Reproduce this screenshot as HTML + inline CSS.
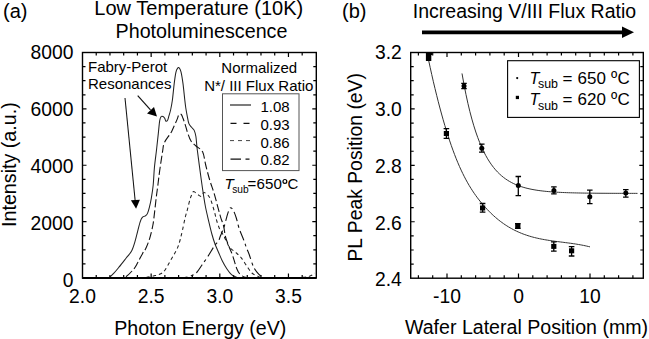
<!DOCTYPE html>
<html><head><meta charset="utf-8"><style>
html,body{margin:0;padding:0;background:#fff;width:649px;height:339px;overflow:hidden}
svg{display:block}
text{font-family:"Liberation Sans", sans-serif;fill:#000}
</style></head><body>
<svg width="649" height="339" viewBox="0 0 649 339">
<rect x="82.5" y="52.5" width="233.80" height="225.50" fill="none" stroke="#000" stroke-width="1.4"/>
<path d="M96.23,278.0v-3.0 M96.23,52.5v3.0 M109.96,278.0v-3.0 M109.96,52.5v3.0 M123.69,278.0v-3.0 M123.69,52.5v3.0 M137.42,278.0v-3.0 M137.42,52.5v3.0 M151.15,278.0v-4.6 M151.15,52.5v4.6 M164.88,278.0v-3.0 M164.88,52.5v3.0 M178.61,278.0v-3.0 M178.61,52.5v3.0 M192.34,278.0v-3.0 M192.34,52.5v3.0 M206.07,278.0v-3.0 M206.07,52.5v3.0 M219.80,278.0v-4.6 M219.80,52.5v4.6 M233.53,278.0v-3.0 M233.53,52.5v3.0 M247.26,278.0v-3.0 M247.26,52.5v3.0 M260.99,278.0v-3.0 M260.99,52.5v3.0 M274.72,278.0v-3.0 M274.72,52.5v3.0 M288.45,278.0v-4.6 M288.45,52.5v4.6 M302.18,278.0v-3.0 M302.18,52.5v3.0 M82.5,263.91h3 M316.3,263.91h-3 M82.5,249.81h3 M316.3,249.81h-3 M82.5,235.72h3 M316.3,235.72h-3 M82.5,221.62h4 M316.3,221.62h-4 M82.5,207.53h3 M316.3,207.53h-3 M82.5,193.44h3 M316.3,193.44h-3 M82.5,179.34h3 M316.3,179.34h-3 M82.5,165.25h4 M316.3,165.25h-4 M82.5,151.16h3 M316.3,151.16h-3 M82.5,137.06h3 M316.3,137.06h-3 M82.5,122.97h3 M316.3,122.97h-3 M82.5,108.88h4 M316.3,108.88h-4 M82.5,94.78h3 M316.3,94.78h-3 M82.5,80.69h3 M316.3,80.69h-3 M82.5,66.59h3 M316.3,66.59h-3" stroke="#000" stroke-width="1.2" fill="none"/>
<path d="M82.40,278.00 C85.33,278.00 95.65,278.03 100.00,278.00 C104.35,277.97 106.18,278.62 108.50,277.80 C110.82,276.98 112.12,274.92 113.90,273.10 C115.68,271.28 117.15,269.42 119.20,266.90 C121.25,264.38 124.13,260.65 126.20,258.00 C128.27,255.35 130.12,253.80 131.60,251.00 C133.08,248.20 133.70,245.97 135.10,241.20 C136.50,236.43 138.75,226.42 140.00,222.40 C141.25,218.38 141.68,218.20 142.60,217.10 C143.52,216.00 144.68,216.42 145.50,215.80 C146.32,215.18 146.87,214.77 147.50,213.40 C148.13,212.03 148.67,210.12 149.30,207.60 C149.93,205.08 150.65,202.07 151.30,198.30 C151.95,194.53 152.68,190.10 153.20,185.00 C153.72,179.90 153.85,173.53 154.40,167.70 C154.95,161.87 155.85,155.68 156.50,150.00 C157.15,144.32 157.77,138.50 158.30,133.60 C158.83,128.70 159.22,123.45 159.70,120.60 C160.18,117.75 160.65,117.18 161.20,116.50 C161.75,115.82 162.42,116.20 163.00,116.50 C163.58,116.80 164.22,117.52 164.70,118.30 C165.18,119.08 165.40,120.92 165.90,121.20 C166.40,121.48 167.20,120.88 167.70,120.00 C168.20,119.12 168.42,117.57 168.90,115.90 C169.38,114.23 170.02,112.65 170.60,110.00 C171.18,107.35 171.80,104.40 172.40,100.00 C173.00,95.60 173.62,88.22 174.20,83.60 C174.78,78.98 175.33,74.85 175.90,72.30 C176.47,69.75 177.05,69.05 177.60,68.30 C178.15,67.55 178.63,67.22 179.20,67.80 C179.77,68.38 180.37,69.17 181.00,71.80 C181.63,74.43 182.37,78.90 183.00,83.60 C183.63,88.30 184.33,95.93 184.80,100.00 C185.27,104.07 185.42,105.45 185.80,108.00 C186.18,110.55 186.58,112.70 187.10,115.30 C187.62,117.90 188.12,121.57 188.90,123.60 C189.68,125.63 190.92,126.37 191.80,127.50 C192.68,128.63 193.52,128.90 194.20,130.40 C194.88,131.90 195.38,133.23 195.90,136.50 C196.42,139.77 196.40,142.75 197.30,150.00 C198.20,157.25 200.27,172.50 201.30,180.00 C202.33,187.50 202.80,190.50 203.50,195.00 C204.20,199.50 204.67,202.78 205.50,207.00 C206.33,211.22 207.42,215.72 208.50,220.30 C209.58,224.88 210.92,230.55 212.00,234.50 C213.08,238.45 213.92,241.05 215.00,244.00 C216.08,246.95 217.32,249.47 218.50,252.20 C219.68,254.93 220.72,257.65 222.10,260.40 C223.48,263.15 225.23,266.33 226.80,268.70 C228.37,271.07 229.93,273.22 231.50,274.60 C233.07,275.98 234.78,276.43 236.20,277.00 C237.62,277.57 226.70,277.83 240.00,278.00 C253.30,278.17 303.33,278.00 316.00,278.00" stroke="#222" stroke-width="1.05" fill="none"/>
<path d="M82.40,278.00 C87.83,278.00 107.98,278.08 115.00,278.00 C122.02,277.92 121.45,278.90 124.50,277.50 C127.55,276.10 131.08,272.10 133.30,269.60 C135.52,267.10 136.25,265.20 137.80,262.50 C139.35,259.80 141.25,255.77 142.60,253.40 C143.95,251.03 144.72,250.82 145.90,248.30 C147.08,245.78 148.53,242.18 149.70,238.30 C150.87,234.42 152.08,229.38 152.90,225.00 C153.72,220.62 154.03,216.67 154.60,212.00 C155.17,207.33 155.75,201.50 156.30,197.00 C156.85,192.50 157.35,189.30 157.90,185.00 C158.45,180.70 158.83,176.70 159.60,171.20 C160.37,165.70 161.73,156.70 162.50,152.00 C163.27,147.30 163.03,145.87 164.20,143.00 C165.37,140.13 168.23,136.77 169.50,134.80 C170.77,132.83 170.93,132.87 171.80,131.20 C172.67,129.53 173.82,126.77 174.70,124.80 C175.58,122.83 176.40,121.08 177.10,119.40 C177.80,117.72 178.20,115.52 178.90,114.70 C179.60,113.88 180.62,113.90 181.30,114.50 C181.98,115.10 182.32,116.50 183.00,118.30 C183.68,120.10 184.62,122.85 185.40,125.30 C186.18,127.75 186.77,130.38 187.70,133.00 C188.63,135.62 189.62,138.83 191.00,141.00 C192.38,143.17 194.07,144.20 196.00,146.00 C197.93,147.80 200.98,148.63 202.60,151.80 C204.22,154.97 204.52,160.30 205.70,165.00 C206.88,169.70 208.28,175.23 209.70,180.00 C211.12,184.77 212.87,189.17 214.20,193.60 C215.53,198.03 216.63,202.68 217.70,206.60 C218.77,210.52 219.62,213.87 220.60,217.10 C221.58,220.33 222.80,222.77 223.60,226.00 C224.40,229.23 224.67,233.50 225.40,236.50 C226.13,239.50 227.18,241.78 228.00,244.00 C228.82,246.22 229.52,247.85 230.30,249.80 C231.08,251.75 231.62,252.55 232.70,255.70 C233.78,258.85 235.52,265.55 236.80,268.70 C238.08,271.85 238.78,273.13 240.40,274.60 C242.02,276.07 244.07,276.93 246.50,277.50 C248.93,278.07 243.42,277.92 255.00,278.00 C266.58,278.08 305.83,278.00 316.00,278.00" stroke="#111" stroke-width="1.1" fill="none" stroke-dasharray="8,3"/>
<path d="M82.40,278.00 C92.00,278.00 129.42,278.08 140.00,278.00 C150.58,277.92 143.35,277.90 145.90,277.50 C148.45,277.10 152.73,276.27 155.30,275.60 C157.87,274.93 159.62,274.52 161.30,273.50 C162.98,272.48 163.93,271.53 165.40,269.50 C166.87,267.47 168.63,263.85 170.10,261.30 C171.57,258.75 172.92,256.57 174.20,254.20 C175.48,251.83 176.82,249.47 177.80,247.10 C178.78,244.73 179.32,242.85 180.10,240.00 C180.88,237.15 181.63,233.83 182.50,230.00 C183.37,226.17 184.48,220.40 185.30,217.00 C186.12,213.60 186.60,212.60 187.40,209.60 C188.20,206.60 189.30,201.65 190.10,199.00 C190.90,196.35 191.58,194.93 192.20,193.70 C192.82,192.47 192.83,191.43 193.80,191.60 C194.77,191.77 196.77,193.92 198.00,194.70 C199.23,195.48 200.22,196.65 201.20,196.30 C202.18,195.95 202.75,192.77 203.90,192.60 C205.05,192.43 206.95,194.07 208.10,195.30 C209.25,196.53 210.00,198.15 210.80,200.00 C211.60,201.85 212.20,204.10 212.90,206.40 C213.60,208.70 214.35,211.37 215.00,213.80 C215.65,216.23 216.00,218.40 216.80,221.00 C217.60,223.60 218.77,227.15 219.80,229.40 C220.83,231.65 221.88,232.48 223.00,234.50 C224.12,236.52 225.37,239.30 226.50,241.50 C227.63,243.70 228.17,245.80 229.80,247.70 C231.43,249.60 234.35,251.17 236.30,252.90 C238.25,254.63 239.77,255.93 241.50,258.10 C243.23,260.27 244.97,263.42 246.70,265.90 C248.43,268.38 250.18,271.35 251.90,273.00 C253.62,274.65 254.98,275.03 257.00,275.80 C259.02,276.57 256.83,277.32 264.00,277.60 C271.17,277.88 292.33,277.77 300.00,277.50 C307.67,277.23 307.53,276.72 310.00,276.00 C312.47,275.28 314.00,273.67 314.80,273.20" stroke="#222" stroke-width="1.05" fill="none" stroke-dasharray="3.5,3"/>
<path d="M82.40,278.00 C98.33,278.00 160.92,278.08 178.00,278.00 C195.08,277.92 182.58,277.93 184.90,277.50 C187.22,277.07 189.93,276.23 191.90,275.40 C193.87,274.57 195.02,274.23 196.70,272.50 C198.38,270.77 200.12,267.72 202.00,265.00 C203.88,262.28 205.90,259.43 208.00,256.20 C210.10,252.97 212.85,248.13 214.60,245.60 C216.35,243.07 217.55,242.55 218.50,241.00 C219.45,239.45 219.40,238.57 220.30,236.30 C221.20,234.03 222.82,230.65 223.90,227.40 C224.98,224.15 225.98,219.62 226.80,216.80 C227.62,213.98 228.17,212.00 228.80,210.50 C229.43,209.00 229.85,207.83 230.60,207.80 C231.35,207.77 232.35,208.60 233.30,210.30 C234.25,212.00 235.32,214.95 236.30,218.00 C237.28,221.05 237.93,224.87 239.20,228.60 C240.47,232.33 242.72,237.27 243.90,240.40 C245.08,243.53 245.42,245.05 246.30,247.40 C247.18,249.75 247.97,251.18 249.20,254.50 C250.43,257.82 252.08,264.00 253.70,267.30 C255.32,270.60 257.27,272.68 258.90,274.30 C260.53,275.92 261.65,276.38 263.50,277.00 C265.35,277.62 261.25,277.83 270.00,278.00 C278.75,278.17 308.33,278.00 316.00,278.00" stroke="#111" stroke-width="1.1" fill="none" stroke-dasharray="10,3.5,3,3.5"/>
<path d="M82.5,278.0 H316.3" stroke="#000" stroke-width="2"/>
<path d="M125,98 L135.2,201" stroke="#111" stroke-width="1.05"/>
<path d="M130.9,200.3 L139.9,199.8 L136.1,208.8 Z" fill="#000"/>
<path d="M137.7,95.7 L150.5,109.8" stroke="#111" stroke-width="1.2"/>
<path d="M147,113.5 L154,107 L157,116.5 Z" fill="#000"/>
<rect x="222.5" y="93.8" width="76.5" height="76.8" fill="#fff" stroke="#555" stroke-width="1"/>
<path d="M230,105 H251" stroke="#111" stroke-width="1.1"/>
<path d="M230.5,123.4 H252" stroke="#111" stroke-width="1.1" stroke-dasharray="6,7"/>
<path d="M230,140.6 H252" stroke="#444" stroke-width="1" stroke-dasharray="4,4"/>
<path d="M230.5,159.1 H250" stroke="#111" stroke-width="1.1" stroke-dasharray="10.5,4.5,4,10"/>
<rect x="410.7" y="52.5" width="232.60" height="225.70" fill="none" stroke="#000" stroke-width="1.4"/>
<path d="M418.40,278.2v-3.0 M418.40,52.5v3.0 M432.70,278.2v-3.0 M432.70,52.5v3.0 M447.00,278.2v-4.6 M447.00,52.5v4.6 M461.30,278.2v-3.0 M461.30,52.5v3.0 M475.60,278.2v-3.0 M475.60,52.5v3.0 M489.90,278.2v-3.0 M489.90,52.5v3.0 M504.20,278.2v-3.0 M504.20,52.5v3.0 M518.50,278.2v-4.6 M518.50,52.5v4.6 M532.80,278.2v-3.0 M532.80,52.5v3.0 M547.10,278.2v-3.0 M547.10,52.5v3.0 M561.40,278.2v-3.0 M561.40,52.5v3.0 M575.70,278.2v-3.0 M575.70,52.5v3.0 M590.00,278.2v-4.6 M590.00,52.5v4.6 M604.30,278.2v-3.0 M604.30,52.5v3.0 M618.60,278.2v-3.0 M618.60,52.5v3.0 M632.90,278.2v-3.0 M632.90,52.5v3.0 M410.7,264.09h3 M643.3,264.09h-3 M410.7,249.99h3 M643.3,249.99h-3 M410.7,235.88h3 M643.3,235.88h-3 M410.7,221.77h4 M643.3,221.77h-4 M410.7,207.67h3 M643.3,207.67h-3 M410.7,193.56h3 M643.3,193.56h-3 M410.7,179.46h3 M643.3,179.46h-3 M410.7,165.35h4 M643.3,165.35h-4 M410.7,151.24h3 M643.3,151.24h-3 M410.7,137.14h3 M643.3,137.14h-3 M410.7,123.03h3 M643.3,123.03h-3 M410.7,108.93h4 M643.3,108.93h-4 M410.7,94.82h3 M643.3,94.82h-3 M410.7,80.71h3 M643.3,80.71h-3 M410.7,66.61h3 M643.3,66.61h-3" stroke="#000" stroke-width="1.2" fill="none"/>
<path d="M462.00,73.46 L463.97,84.40 L465.94,94.35 L467.92,103.38 L469.89,111.60 L471.86,119.06 L473.83,125.84 L475.80,132.01 L477.78,137.61 L479.75,142.70 L481.72,147.33 L483.69,151.53 L485.66,155.35 L487.63,158.82 L489.61,161.98 L491.58,164.84 L493.55,167.45 L495.52,169.82 L497.49,171.97 L499.47,173.92 L501.44,175.70 L503.41,177.32 L505.38,178.78 L507.35,180.12 L509.33,181.33 L511.30,182.43 L513.27,183.43 L515.24,184.34 L517.21,185.17 L519.19,185.92 L521.16,186.60 L523.13,187.22 L525.10,187.79 L527.07,188.30 L529.04,188.76 L531.02,189.19 L532.99,189.57 L534.96,189.92 L536.93,190.24 L538.90,190.53 L540.88,190.79 L542.85,191.03 L544.82,191.24 L546.79,191.44 L548.76,191.62 L550.74,191.78 L552.71,191.93 L554.68,192.06 L556.65,192.19 L558.62,192.30 L560.60,192.40 L562.57,192.49 L564.54,192.57 L566.51,192.65 L568.48,192.72 L570.46,192.78 L572.43,192.83 L574.40,192.89 L576.37,192.93 L578.34,192.98 L580.31,193.01 L582.29,193.05 L584.26,193.08 L586.23,193.11 L588.20,193.14 L590.17,193.16 L592.15,193.18 L594.12,193.20 L596.09,193.22 L598.06,193.24 L600.03,193.25 L602.01,193.27 L603.98,193.28 L605.95,193.29 L607.92,193.30 L609.89,193.31 L611.87,193.32 L613.84,193.32 L615.81,193.33 L617.78,193.34 L619.75,193.34 L621.72,193.35 L623.70,193.35 L625.67,193.36 L627.64,193.36 L629.61,193.36 L631.58,193.37 L633.56,193.37 L635.53,193.37 L637.50,193.38" stroke="#333" stroke-width="1" fill="none"/>
<path d="M428.50,59.72 L430.13,67.29 L431.76,74.64 L433.39,81.75 L435.03,88.64 L436.66,95.31 L438.29,101.76 L439.92,107.99 L441.55,114.00 L443.18,119.80 L444.81,125.39 L446.44,130.77 L448.08,135.94 L449.71,140.90 L451.34,145.66 L452.97,150.23 L454.60,154.59 L456.23,158.75 L457.86,162.73 L459.49,166.51 L461.13,170.10 L462.76,173.53 L464.39,176.78 L466.02,179.88 L467.65,182.82 L469.28,185.63 L470.91,188.30 L472.55,190.85 L474.18,193.28 L475.81,195.60 L477.44,197.82 L479.07,199.94 L480.70,201.99 L482.33,203.96 L483.96,205.86 L485.60,207.68 L487.23,209.45 L488.86,211.14 L490.49,212.77 L492.12,214.34 L493.75,215.84 L495.38,217.29 L497.02,218.67 L498.65,220.00 L500.28,221.27 L501.91,222.48 L503.54,223.65 L505.17,224.76 L506.80,225.82 L508.43,226.83 L510.07,227.79 L511.70,228.71 L513.33,229.59 L514.96,230.42 L516.59,231.20 L518.22,231.95 L519.85,232.66 L521.48,233.33 L523.12,233.97 L524.75,234.57 L526.38,235.14 L528.01,235.68 L529.64,236.18 L531.27,236.66 L532.90,237.11 L534.54,237.54 L536.17,237.94 L537.80,238.31 L539.43,238.67 L541.06,239.00 L542.69,239.32 L544.32,239.62 L545.95,239.90 L547.59,240.17 L549.22,240.43 L550.85,240.67 L552.48,240.91 L554.11,241.14 L555.74,241.36 L557.37,241.57 L559.01,241.78 L560.64,241.99 L562.27,242.19 L563.90,242.40 L565.53,242.61 L567.16,242.82 L568.79,243.03 L570.42,243.25 L572.06,243.48 L573.69,243.72 L575.32,243.96 L576.95,244.22 L578.58,244.50 L580.21,244.78 L581.84,245.08 L583.47,245.40 L585.11,245.74 L586.74,246.10 L588.37,246.48 L590.00,246.89" stroke="#333" stroke-width="1" fill="none"/>
<path d="M464,83.3V88.6 M461.25,83.3h5.5 M461.25,88.6h5.5 M481.8,144.2V152.2 M479.05,144.2h5.5 M479.05,152.2h5.5 M518.3,176.5V195.6 M515.55,176.5h5.5 M515.55,195.6h5.5 M553.9,186.8V193.9 M551.15,186.8h5.5 M551.15,193.9h5.5 M589.8,190.1V203.6 M587.05,190.1h5.5 M587.05,203.6h5.5 M625.8,189.6V197.2 M623.05,189.6h5.5 M623.05,197.2h5.5 M446.4,128.6V138.3 M443.59999999999997,128.6h5.6 M443.59999999999997,138.3h5.6 M482.6,203.5V212.2 M479.8,203.5h5.6 M479.8,212.2h5.6 M517.8,223.6V228.4 M515.0,223.6h5.6 M515.0,228.4h5.6 M553.8,241.8V251.2 M551.0,241.8h5.6 M551.0,251.2h5.6 M571.6,246.6V256 M568.8000000000001,246.6h5.6 M568.8000000000001,256h5.6" stroke="#000" stroke-width="1.3" fill="none"/>
<circle cx="464" cy="86" r="2.5" fill="#000"/>
<circle cx="481.8" cy="148.3" r="2.5" fill="#000"/>
<circle cx="518.3" cy="185.6" r="2.5" fill="#000"/>
<circle cx="553.9" cy="190.4" r="2.5" fill="#000"/>
<circle cx="589.8" cy="196.8" r="2.5" fill="#000"/>
<circle cx="625.8" cy="193" r="2.5" fill="#000"/>
<rect x="443.80" y="131.00" width="5.2" height="5" fill="#000"/>
<rect x="480.00" y="205.50" width="5.2" height="5" fill="#000"/>
<rect x="515.20" y="223.50" width="5.2" height="5" fill="#000"/>
<rect x="551.20" y="243.90" width="5.2" height="5" fill="#000"/>
<rect x="569.00" y="248.30" width="5.2" height="5" fill="#000"/>
<rect x="425.9" y="52.5" width="5.4" height="8.5" fill="#000"/>
<rect x="429" y="52.5" width="3" height="2.6" fill="#000"/>
<rect x="507.6" y="60.7" width="131.8" height="56.7" fill="#fff" stroke="#000" stroke-width="1.1"/>
<circle cx="517.2" cy="78.1" r="1.1" fill="#000"/>
<rect x="515.8" y="95.8" width="3.2" height="3.3" fill="#000"/>
<path d="M422,32.3 H623" stroke="#000" stroke-width="3.8"/>
<path d="M622,26.6 L634,32.3 L622,38.1 Z" fill="#000"/>
<text x="3" y="18" font-size="20" text-anchor="start" >(a)</text>
<text x="198.8" y="14.8" font-size="20.05" text-anchor="middle" >Low Temperature (10K)</text>
<text x="201.5" y="38" font-size="19.7" text-anchor="middle" >Photoluminescence</text>
<text transform="translate(73.5,286.54) scale(1,1.05)" x="0" y="0" font-size="19.3" text-anchor="end" >0</text>
<text transform="translate(73.5,229.55) scale(1,1.05)" x="0" y="0" font-size="19.3" text-anchor="end" >2000</text>
<text transform="translate(73.5,172.55) scale(1,1.05)" x="0" y="0" font-size="19.3" text-anchor="end" >4000</text>
<text transform="translate(73.5,115.56) scale(1,1.05)" x="0" y="0" font-size="19.3" text-anchor="end" >6000</text>
<text transform="translate(73.5,58.56) scale(1,1.05)" x="0" y="0" font-size="19.3" text-anchor="end" >8000</text>
<text transform="translate(82.5,302.9) scale(1,1.05)" x="0" y="0" font-size="19.3" text-anchor="middle" >2.0</text>
<text transform="translate(151.15,302.9) scale(1,1.05)" x="0" y="0" font-size="19.3" text-anchor="middle" >2.5</text>
<text transform="translate(219.8,302.9) scale(1,1.05)" x="0" y="0" font-size="19.3" text-anchor="middle" >3.0</text>
<text transform="translate(288.45000000000005,302.9) scale(1,1.05)" x="0" y="0" font-size="19.3" text-anchor="middle" >3.5</text>
<text x="200.3" y="334.8" font-size="19.6" text-anchor="middle" >Photon Energy (eV)</text>
<text transform="translate(15.5,164.6) rotate(-90)" font-size="19.7" text-anchor="middle">Intensity (a.u.)</text>
<text x="88" y="71.5" font-size="15" text-anchor="start" >Fabry-Perot</text>
<text x="88" y="88.9" font-size="15" text-anchor="start" >Resonances</text>
<text x="259.3" y="72.6" font-size="15" text-anchor="middle" >Normalized</text>
<text x="258.8" y="90.7" font-size="15" text-anchor="middle" >N*/ III Flux Ratio</text>
<text x="260.5" y="111.7" font-size="15" text-anchor="start" >1.08</text>
<text x="260.5" y="129.6" font-size="15" text-anchor="start" >0.93</text>
<text x="260.5" y="147.5" font-size="15" text-anchor="start" >0.86</text>
<text x="260.5" y="165.4" font-size="15" text-anchor="start" >0.82</text>
<text x="224.5" y="188.8" font-size="15.2" font-style="italic">T</text>
<text x="232.2" y="192.8" font-size="10.2">sub</text>
<text x="247.5" y="188.8" font-size="15">=</text>
<text x="256.6" y="188.8" font-size="15.1">650</text>
<circle cx="284.9" cy="181.4" r="1.9" fill="none" stroke="#000" stroke-width="1.2"/>
<text x="287.5" y="188.8" font-size="15">C</text>
<text x="342" y="18" font-size="20" text-anchor="start" >(b)</text>
<text x="524.5" y="17.7" font-size="19.5" text-anchor="middle" >Increasing V/III Flux Ratio</text>
<text transform="translate(401.8,286.41) scale(1,1.05)" x="0" y="0" font-size="19.3" text-anchor="end" >2.4</text>
<text transform="translate(401.8,229.53) scale(1,1.05)" x="0" y="0" font-size="19.3" text-anchor="end" >2.6</text>
<text transform="translate(401.8,172.65) scale(1,1.05)" x="0" y="0" font-size="19.3" text-anchor="end" >2.8</text>
<text transform="translate(401.8,115.78) scale(1,1.05)" x="0" y="0" font-size="19.3" text-anchor="end" >3.0</text>
<text transform="translate(401.8,58.9) scale(1,1.05)" x="0" y="0" font-size="19.3" text-anchor="end" >3.2</text>
<text transform="translate(447.0,303) scale(1,1.05)" x="0" y="0" font-size="19.3" text-anchor="middle" >-10</text>
<text transform="translate(518.5,303) scale(1,1.05)" x="0" y="0" font-size="19.3" text-anchor="middle" >0</text>
<text transform="translate(590.0,303) scale(1,1.05)" x="0" y="0" font-size="19.3" text-anchor="middle" >10</text>
<text x="526.5" y="333.6" font-size="19.6" text-anchor="middle" >Wafer Lateral Position (mm)</text>
<text transform="translate(362.4,167.3) rotate(-90)" font-size="19.35" text-anchor="middle">PL Peak Position (eV)</text>
<text x="529.5" y="83.7" font-size="16.2" font-style="italic">T</text>
<text x="538" y="88.3" font-size="12.4">sub</text>
<text x="562.5" y="83.9" font-size="17">=</text>
<text x="577.6" y="83.9" font-size="17">650</text>
<text x="611" y="83.9" font-size="17">º</text>
<text x="617.5" y="83.9" font-size="17">C</text>
<text x="529.5" y="104.9" font-size="16.2" font-style="italic">T</text>
<text x="538" y="109.5" font-size="12.4">sub</text>
<text x="562.5" y="105.1" font-size="17">=</text>
<text x="577.6" y="105.1" font-size="17">620</text>
<text x="611" y="105.1" font-size="17">º</text>
<text x="617.5" y="105.1" font-size="17">C</text>
</svg>
</body></html>
